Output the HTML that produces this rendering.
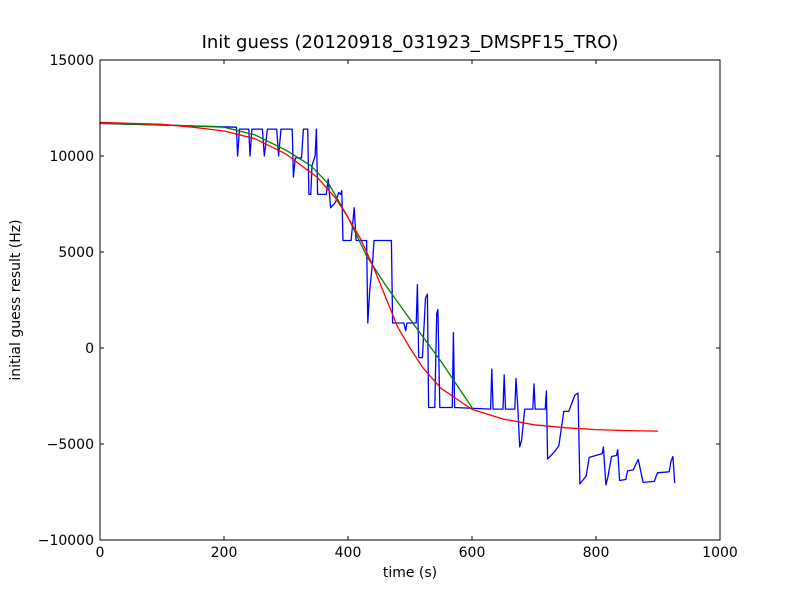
<!DOCTYPE html>
<html><head><meta charset="utf-8"><style>
body{margin:0;background:#fff;}
svg{display:block;font-family:"DejaVu Sans","Liberation Sans",sans-serif;}
</style></head><body>
<svg id="chart" width="800" height="600">
<rect width="800" height="600" fill="#fff"/>
<text x="410" y="48" font-size="18" text-anchor="middle">Init guess (20120918_031923_DMSPF15_TRO)</text>
<text x="410" y="577" font-size="14" text-anchor="middle">time (s)</text>
<text transform="translate(20,300) rotate(-90)" font-size="14" text-anchor="middle">initial guess result (Hz)</text>
<g id="ticks"></g>
<g id="lines"></g>
<rect x="100" y="60" width="620" height="480" fill="none" stroke="#000" stroke-width="1"/>
</svg>
<script>
const xTicks=[0,200,400,600,800,1000];
const yTicks=[-10000,-5000,0,5000,10000,15000];
const yTickLabels=["\u221210000","\u22125000","0","5000","10000","15000"];
const blueT=[0,220,222,225,240,242,245,262,265,270,285,288,292,310,312,315,325,328,335,337,340,342,345,347,349,351,365,368,372,380,385,388,390,392,405,410,413,430,432,435,440,442,470,472,490,493,495,510,512,514,520,525,528,530,540,543,545,548,568,570,572,630,632,634,650,652,654,669,671,674,677,680,685,698,700,702,718,720,722,733,740,748,756,766,771,774,784,789,810,812,816,819,825,833,835,838,848,851,860,868,876,894,899,918,921,924,927];
const blueV=[11700,11500,10000,11400,11400,10000,11400,11400,10000,11400,11400,10000,11400,11400,8900,9900,9900,11400,11400,8000,8000,9500,9800,10000,11400,8000,8000,8800,7300,7600,8100,8000,8200,5600,5600,7300,5600,5600,1300,3000,4600,5600,5600,1300,1300,900,1300,1300,3300,-500,-500,2600,2800,-3100,-3100,1800,2000,-3100,-3100,800,-3100,-3180,-1100,-3180,-3180,-1400,-3180,-3180,-1600,-3180,-5150,-4800,-3180,-3180,-1870,-3180,-3180,-2240,-5780,-5400,-5100,-3300,-3300,-2450,-2350,-7080,-6670,-5700,-5500,-5150,-7130,-6750,-5650,-5600,-5300,-6900,-6850,-6400,-6350,-5800,-7000,-6950,-6500,-6450,-5900,-5650,-7030];
const greenT=[0,120,200,250,300,340,370,400,430,460,500,550,602];
const greenV=[11700,11600,11500,11100,10300,9500,8500,6800,4800,3300,1500,-700,-3200];
const redT=[0,100,150,200,250,300,350,380,400,420,440,460,480,500,520,550,600,650,700,750,800,850,900];
const redV=[11750,11650,11500,11300,10900,10100,8900,7800,6800,5700,4300,2700,1100,0,-1000,-2100,-3200,-3700,-4000,-4150,-4250,-4300,-4330];
const X=t=>100+t*0.62;
const Y=v=>348-v*0.0192;
const NS="http://www.w3.org/2000/svg";
const tg=document.getElementById('ticks');
function mk(tag,attrs,parent){const e=document.createElementNS(NS,tag);for(const k in attrs)e.setAttribute(k,attrs[k]);parent.appendChild(e);return e;}
xTicks.forEach(t=>{
  const x=X(t);
  const a=mk('line',{x1:x,x2:x,y1:540,y2:536,stroke:'#000'},tg);
  
  
  const b=mk('line',{x1:x,x2:x,y1:60,y2:64,stroke:'#000'},tg);
  
  
  const l=mk('text',{x:x,y:557,'font-size':14,'text-anchor':'middle'},tg);l.textContent=t;
  
  
});
yTicks.forEach((v,i)=>{
  const y=Y(v);
  const a=mk('line',{x1:100,x2:104,y1:y,y2:y,stroke:'#000'},tg);
  
  
  const b=mk('line',{x1:716,x2:720,y1:y,y2:y,stroke:'#000'},tg);
  
  
  const l=mk('text',{x:94,y:y+5,'font-size':14,'text-anchor':'end'},tg);l.textContent=yTickLabels[i];
  
  
});
const lg=document.getElementById('lines');
function line(T,V,color,name){
  const d=T.map((t,i)=>(i?'L':'M')+X(t).toFixed(1)+','+Y(V[i]).toFixed(1)).join('');
  const p=mk('path',{d:d,fill:'none',stroke:color,'stroke-width':1.3,'stroke-linejoin':'round'},lg);
  
  
}
line(blueT,blueV,'#0000ff','blue-guess-line');
line(greenT,greenV,'#008000','green-fit-line');
line(redT,redV,'#ff0000','red-fit-line');
</script>
</body></html>
